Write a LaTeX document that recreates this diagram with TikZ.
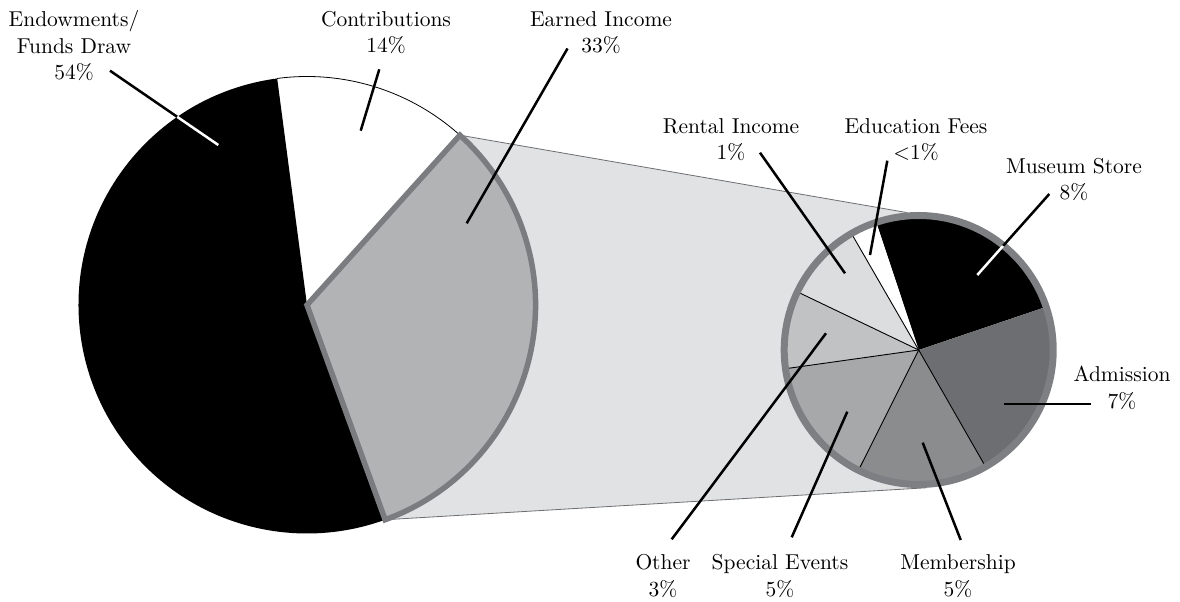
\documentclass[tikz,border=0pt]{standalone}
\usepackage{tikz}
\definecolor{wedgefill}{HTML}{B2B3B5}
\definecolor{wedgeline}{HTML}{7B7C7F}
\definecolor{zoomfill}{HTML}{E1E2E4}
\definecolor{zoomline}{HTML}{6D6E71}
\definecolor{cAdm}{HTML}{6D6E71}
\definecolor{cMem}{HTML}{8B8C8E}
\definecolor{cSpe}{HTML}{A7A8AA}
\definecolor{cOth}{HTML}{C1C2C4}
\definecolor{cRen}{HTML}{DCDDDF}
\definecolor{ringline}{HTML}{7E7F82}
\newcommand\mkslice[3]{\fill[#3] (S) -- ++(#1:\rs) arc[start angle=#1,end angle=#2,radius=\rs] -- cycle;}
\begin{document}
\begin{tikzpicture}[x=1pt,y=1pt,
  lbl/.style={align=center,inner sep=0pt,anchor=base,font=\fontsize{10}{12.42}\selectfont,scale=2.15,transform shape},
  leader/.style={line width=2.5pt},
  sepline/.style={line width=0.9pt,black}]
\useasboundingbox (0,0) rectangle (1180,602);
\def\R{228.5}
\def\rs{134.5}
\coordinate (B) at (307,297);
\coordinate (S) at (918.7,252);
% zoom band
\path (B) ++(48:\R) coordinate (P1);
\path (B) ++(-70:\R) coordinate (P2);
\path (S) ++(95:138) coordinate (T1);
\path (S) ++(-86.6:138) coordinate (T2);
\fill[zoomfill] (P1) -- (T1) -- (S) -- (T2) -- (P2) -- cycle;
\draw[zoomline,line width=0.8pt] (P1) -- (T1);
\draw[zoomline,line width=0.8pt] (P2) -- (T2);
% big pie
\fill[black] (B) -- ++(97.5:\R) arc[start angle=97.5,end angle=290,radius=\R] -- cycle;
\draw[line width=0.8pt] (B) ++(48:\R) arc[start angle=48,end angle=97.5,radius=\R];
\filldraw[fill=wedgefill,draw=wedgeline,line width=5.5pt,line join=miter]
  (B) -- ++(-70:\R) arc[start angle=-70,end angle=48,radius=\R] -- cycle;
% small pie
\mkslice{18.7}{108.4}{black}
\mkslice{-60.2}{18.7}{cAdm}
\mkslice{-116.6}{-60.2}{cMem}
\mkslice{-172}{-116.6}{cSpe}
\mkslice{154.4}{188}{cOth}
\mkslice{120}{154.4}{cRen}
\mkslice{108.4}{120}{white}
\foreach \a in {-60.2,-116.6,188,154.4,120} \draw[sepline] (S) -- ++(\a:\rs);
\draw[ringline,line width=7pt] (S) circle[radius=\rs];
% labels (anchor base = baseline of last line)
\node[lbl] (endow) at (74,522) {Endowments/\\Funds Draw\\54\%};
\node[lbl] (contrib) at (386,549) {Contributions\\14\%};
\node[lbl] (earned) at (601,549) {Earned Income\\33\%};
\node[lbl] (rental) at (731,442) {Rental Income\\1\%};
\node[lbl] (educ) at (916,442) {Education Fees\\\textless1\%};
\node[lbl] (museum) at (1074,402) {Museum Store\\8\%};
\node[lbl] (admis) at (1122,193.7) {Admission\\7\%};
\node[lbl] (other) at (663,5.3) {Other\\3\%};
\node[lbl] (special) at (780,5.3) {Special Events\\5\%};
\node[lbl] (member) at (958,5.3) {Membership\\5\%};
% leader ends
\coordinate (eA) at (110,531.3); \coordinate (eB) at (177.3,485.1); \coordinate (eC) at (218.3,457);
\coordinate (cA) at (379.3,532.7); \coordinate (cB) at (360.7,471.3);
\coordinate (iA) at (567.5,553.5); \coordinate (iB) at (466.7,378.7);
\coordinate (rA) at (760,449.3); \coordinate (rB) at (845,328.7);
\coordinate (fA) at (887.3,441.3); \coordinate (fB) at (870,347);
\coordinate (mA) at (1049.3,408); \coordinate (mB) at (1003,356); \coordinate (mC) at (977.3,327);
\coordinate (aA) at (1091,198); \coordinate (aB) at (1004.3,198);
\coordinate (oA) at (671.7,62.7); \coordinate (oB) at (826,268.7);
\coordinate (sA) at (791.7,64.7); \coordinate (sB) at (847.3,190.3);
\coordinate (bA) at (960.7,62); \coordinate (bB) at (922.7,159.3);
\draw[leader] (eA) -- (eB);
\draw[leader,white] (eB) -- (eC);
\draw[leader] (cA) -- (cB);
\draw[leader] (iA) -- (iB);
\draw[leader] (rA) -- (rB);
\draw[leader] (fA) -- (fB);
\draw[leader] (mA) -- (mB);
\draw[leader,white] (mB) -- (mC);
\draw[leader] (aA) -- (aB);
\draw[leader] (oA) -- (oB);
\draw[leader] (sA) -- (sB);
\draw[leader] (bA) -- (bB);
\end{tikzpicture}
\end{document}
